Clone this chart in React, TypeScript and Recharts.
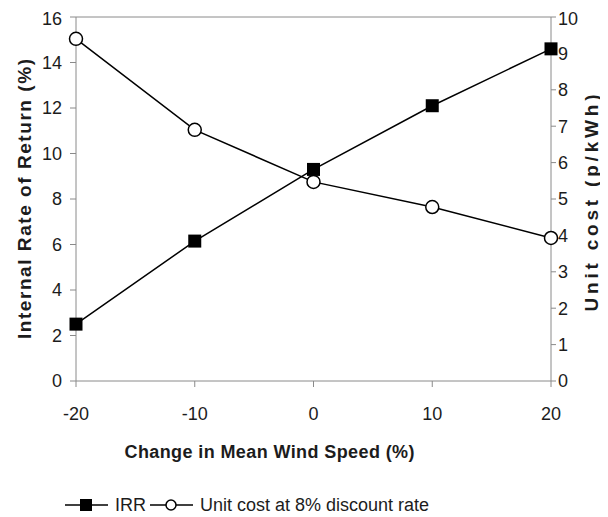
import React from 'react';
import { LineChart, Line, XAxis, YAxis, ReferenceLine, Legend, Label } from 'recharts';

// change in mean wind speed (%)
const windChange = [-20, -10, 0, 10, 20];
// internal rate of return (%)
const irr = [2.5, 6.15, 9.3, 12.1, 14.6];
// unit cost at 8% discount rate (p/kWh)
const unitCost = [9.4, 6.9, 5.47, 4.78, 3.93];

const xTicks = [-20, -10, 0, 10, 20];
const irrTicks = [0, 2, 4, 6, 8, 10, 12, 14, 16];
const costTicks = [0, 1, 2, 3, 4, 5, 6, 7, 8, 9, 10];

const data = windChange.map((x, i) => ({ x, irr: irr[i], cost: unitCost[i] }));

const FONT = "Arial, 'Liberation Sans', sans-serif";
const AXIS = '#8a8a8a';
const TEXT = '#1c1c1c';
const tickStyle = { fill: TEXT, fontSize: 18, fontFamily: FONT };

const SquareDot = (props: any) => {
  const { cx, cy } = props;
  if (cx == null || cy == null) return null;
  return <rect x={cx - 6.5} y={cy - 6.5} width={13} height={13} fill="#000" />;
};

const LeftTitle = (props: any) => {
  const { x, y, height } = props.viewBox;
  const cx = x + 8;
  const cy = y + height / 2;
  return (
    <text x={cx} y={cy} transform={`rotate(-90 ${cx} ${cy})`} textAnchor="middle"
      dominantBaseline="central" fontSize={19} fontWeight="bold" fontFamily={FONT} fill={TEXT}
      textLength={280} lengthAdjust="spacing">
      Internal Rate of Return (%)
    </text>
  );
};

const RightTitle = (props: any) => {
  const { x, y, height } = props.viewBox;
  const cx = x + 40;
  const cy = y + height / 2 + 4;
  return (
    <text x={cx} y={cy} transform={`rotate(-90 ${cx} ${cy})`} textAnchor="middle"
      dominantBaseline="central" fontSize={19} fontWeight="bold" fontFamily={FONT} fill={TEXT}
      textLength={217} lengthAdjust="spacing">
      Unit cost (p/kWh)
    </text>
  );
};

const BottomTitle = (props: any) => {
  const { x, y, width, height } = props.viewBox;
  return (
    <text x={x + width / 2 - 44} y={y + height - 3} textAnchor="middle"
      fontSize={18} fontWeight="bold" fontFamily={FONT} fill={TEXT}
      textLength={290} lengthAdjust="spacing">
      Change in Mean Wind Speed (%)
    </text>
  );
};

const renderLegend = () => (
  <svg width={600} height={26} style={{ display: 'block' }}>
    <line x1={57} x2={100} y1={13} y2={13} stroke="#000" strokeWidth={1.5} />
    <rect x={72} y={7} width={12} height={12} fill="#000" />
    <text x={107} y={19} fontSize={18} fontFamily={FONT} fill={TEXT}>IRR</text>
    <line x1={142} x2={185} y1={13} y2={13} stroke="#000" strokeWidth={1.5} />
    <circle cx={163} cy={13} r={5} fill="#fff" stroke="#000" strokeWidth={1.5} />
    <text x={192} y={19} fontSize={18} fontFamily={FONT} fill={TEXT}>Unit cost at 8% discount rate</text>
  </svg>
);

export default function App() {
  return (
    <div style={{ width: 600, height: 509, fontFamily: FONT, background: '#fff' }}>
      <LineChart width={600} height={509} data={data}
        margin={{ top: 9, right: 7, bottom: 56, left: 8 }}>
        <XAxis dataKey="x" type="number" domain={[-20, 20]} ticks={xTicks}
          tick={tickStyle} tickSize={6} tickMargin={20} height={80}
          stroke={AXIS} tickLine={{ stroke: AXIS }}>
          <Label content={BottomTitle} />
        </XAxis>
        <YAxis yAxisId="left" domain={[0, 16]} ticks={irrTicks} width={60}
          tick={tickStyle} tickSize={6} tickMargin={8} stroke={AXIS} tickLine={{ stroke: AXIS }}>
          <Label content={LeftTitle} />
        </YAxis>
        <YAxis yAxisId="right" orientation="right" domain={[0, 10]} ticks={costTicks} width={50}
          tick={tickStyle} tickSize={5} tickMargin={2} stroke={AXIS} tickLine={{ stroke: AXIS }}>
          <Label content={RightTitle} />
        </YAxis>
        <ReferenceLine yAxisId="left" y={16} stroke={AXIS} />
        <Line yAxisId="right" dataKey="cost" stroke="#000" strokeWidth={1.5}
          dot={{ r: 6.5, fill: '#fff', stroke: '#000', strokeWidth: 1.5 }}
          isAnimationActive={false} />
        <Line yAxisId="left" dataKey="irr" stroke="#000" strokeWidth={1.5}
          dot={<SquareDot />} isAnimationActive={false} />
        <Legend verticalAlign="middle" align="center" layout="horizontal"
          wrapperStyle={{ left: 0, top: 484, width: 600 }} content={renderLegend} />
      </LineChart>
    </div>
  );
}
